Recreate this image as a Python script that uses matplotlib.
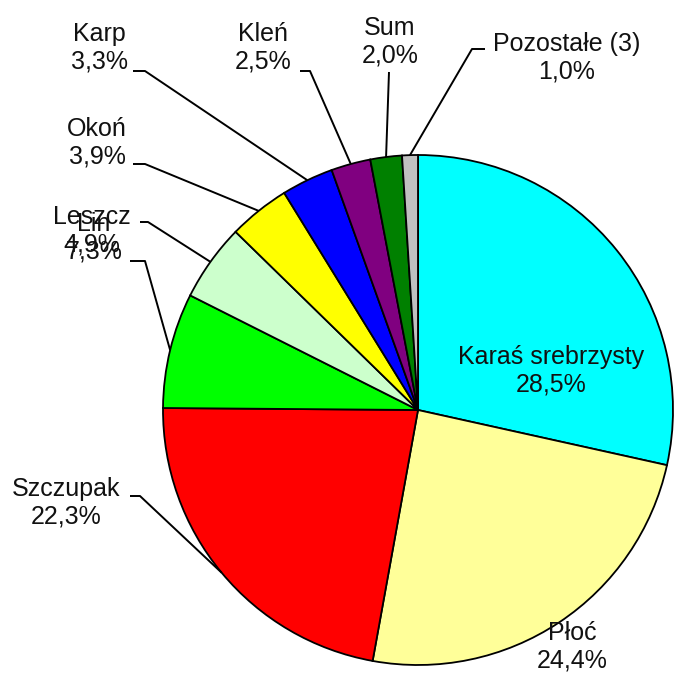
import matplotlib.pyplot as plt
import numpy as np

# Dataset values
species = ['Karaś srebrzysty', 'Płoć', 'Szczupak', 'Lin', 'Leszcz', 'Okoń',
           'Karp', 'Kleń', 'Sum', 'Pozostałe (3)']
shares = [28.5, 24.4, 22.3, 7.3, 4.9, 3.9, 3.3, 2.5, 2.0, 1.0]
colors = ['#00FFFF', '#FFFF99', '#FF0000', '#00FF00', '#CCFFCC', '#FFFF00',
          '#0000FF', '#800080', '#008000', '#C0C0C0']

# Label layout in pixels (x, y from top): block centre, leader hook start, hook end
label_pos = [(551, 371), (572, 647), (66, 503), (94, 238), (92, 231),
             (97, 143), (99, 48), (263, 48), (390, 42), (567, 58)]
hooks = [None, None, (130, 496, 140), (130, 261, 145), (140, 222, 148),
         (133, 164, 145), (133, 71, 145), (300, 71, 310), (389, 72, 389),
         (485, 49, 472)]

W, H = 679, 675
plt.rcParams['font.family'] = ['Liberation Sans', 'DejaVu Sans']

fig = plt.figure(figsize=(W / 100, H / 100), dpi=100)
ax = fig.add_axes([0, 0, 1, 1])

cx, cy, r = 418, H - 410, 255
wedges, _ = ax.pie(shares, colors=colors, startangle=90, counterclock=False,
                   center=(cx, cy), radius=r,
                   wedgeprops=dict(edgecolor='black', linewidth=1.3))

ax.set_xlim(0, W)
ax.set_ylim(0, H)
ax.set_aspect('equal')
ax.axis('off')

for name, val, w, pos, hook in zip(species, shares, wedges, label_pos, hooks):
    txt = f"{name}\n{val:.1f}".replace('.', ',') + '%'
    ax.text(pos[0], H - pos[1], txt, ha='center', va='center',
            fontsize=18, linespacing=1.2, color='#111111')
    if hook is None:
        continue
    mid = np.deg2rad((w.theta1 + w.theta2) / 2)
    ex, ey = cx + r * np.cos(mid), cy + r * np.sin(mid)
    x0, y0, x1 = hook
    ax.plot([x0, x1, ex], [H - y0, H - y0, ey], color='black',
            linewidth=1.4, solid_capstyle='butt')

plt.savefig('out.png', dpi=100)
